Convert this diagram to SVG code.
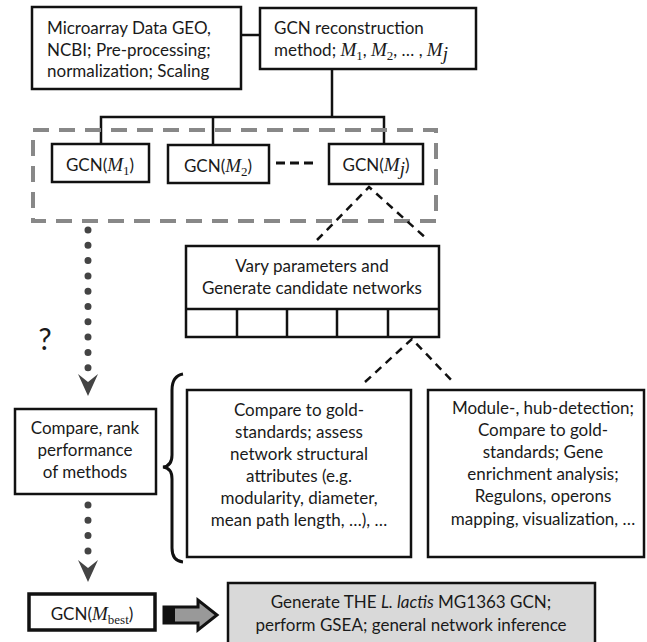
<svg xmlns="http://www.w3.org/2000/svg" width="647" height="642" viewBox="0 0 647 642">
<defs>
<style>
.box{fill:#fff;stroke:#111;stroke-width:2.5}
.t{font-family:Lato,"Open Sans",sans-serif;font-size:17px;fill:#1a1a1a}
.c{text-anchor:middle}
.m{font-family:"Liberation Serif","DejaVu Serif",serif;font-style:italic;font-size:19px}
.s{font-family:"Liberation Serif","DejaVu Serif",serif;font-size:13px;font-style:normal}
.ln{fill:none;stroke:#111;stroke-width:2.5}
.dl{fill:none;stroke:#111;stroke-width:2.5;stroke-dasharray:8,6}
.dot{fill:none;stroke:#444;stroke-width:7;stroke-linecap:round;stroke-dasharray:0,15.3}
.head{fill:#444}
</style>
</defs>
<rect width="647" height="642" fill="#fff"/>

<g id="connectors">
<line class="ln" x1="241" y1="35" x2="260" y2="35"/>
<polyline class="ln" points="332,69 332,117"/>
<polyline class="ln" points="101,144 101,117 384,117 384,144"/>
<line class="ln" x1="213" y1="117" x2="213" y2="145"/>
<line x1="276" y1="163" x2="316" y2="163" stroke="#111" stroke-width="3" stroke-dasharray="9,5"/>
<rect x="33" y="130" width="403" height="91" fill="none" stroke="#888" stroke-width="4" stroke-dasharray="16,10"/>
<polyline class="dl" points="317,240 369,187 428,240"/>
<polyline class="dl" points="365,382 412,339 454,383"/>
<line class="dot" x1="88" y1="230" x2="88" y2="368"/>
<polygon class="head" points="78,374 88,382 98,374 88,396"/>
<line class="dot" x1="88" y1="505" x2="88" y2="553"/>
<polygon class="head" points="78,560 88,568 98,560 88,582"/>
<path d="M183,374 Q172,376 172,390 L172,455 Q172,466 163,467 Q172,468 172,479 L172,548 Q172,561 183,562" fill="none" stroke="#111" stroke-width="3"/>
<polygon points="164,607 198,607 198,600 217,615 198,630 198,623 164,623" fill="#999" stroke="#111" stroke-width="3" stroke-linejoin="miter"/>
<rect x="164" y="607" width="11" height="16" fill="#111"/>
</g>

<g id="n-microarray">
<rect class="box" x="32" y="7" width="209" height="82"/>
<text class="t" x="47" y="34">Microarray Data GEO,</text>
<text class="t" x="47" y="56">NCBI; Pre-processing;</text>
<text class="t" x="47" y="77">normalization; Scaling</text>
</g>

<g id="n-recon">
<rect class="box" x="260" y="8" width="216" height="61"/>
<text class="t" x="274" y="34">GCN reconstruction</text>
<text class="t" x="274" y="56">method; <tspan class="m">M</tspan><tspan class="s" dy="4">1</tspan><tspan dy="-4">, </tspan><tspan class="m">M</tspan><tspan class="s" dy="4">2</tspan><tspan dy="-4">, … , </tspan><tspan class="m">M</tspan><tspan class="m" font-size="13" dy="4">j</tspan></text>
</g>

<g id="n-gcn1">
<rect class="box" x="52" y="144" width="97" height="38"/>
<text class="t c" x="100" y="171">GCN(<tspan class="m">M</tspan><tspan class="s" dy="4">1</tspan><tspan dy="-4">)</tspan></text>
</g>

<g id="n-gcn2">
<rect class="box" x="168" y="145" width="101" height="38"/>
<text class="t c" x="218" y="172">GCN(<tspan class="m">M</tspan><tspan class="s" dy="4">2</tspan><tspan dy="-4">)</tspan></text>
</g>

<g id="n-gcnj">
<rect class="box" x="329" y="144" width="94" height="40"/>
<text class="t c" x="376" y="171">GCN(<tspan class="m">M</tspan><tspan class="m" font-size="13" dy="4">j</tspan><tspan dy="-4">)</tspan></text>
</g>

<g id="n-vary">
<rect class="box" x="186" y="246" width="253" height="91"/>
<line class="ln" x1="186" y1="309" x2="439" y2="309"/>
<line class="ln" x1="237" y1="309" x2="237" y2="337"/>
<line class="ln" x1="287" y1="309" x2="287" y2="337"/>
<line class="ln" x1="337" y1="309" x2="337" y2="337"/>
<line class="ln" x1="388" y1="309" x2="388" y2="337"/>
<text class="t c" x="312" y="272">Vary parameters and</text>
<text class="t c" x="312" y="294">Generate candidate networks</text>
</g>

<g id="q-mark">
<text x="45" y="350" font-family="Lato,'Open Sans',sans-serif" font-size="30" fill="#1a1a1a" text-anchor="middle">?</text>
</g>

<g id="n-compare">
<rect class="box" x="15" y="409" width="141" height="85"/>
<text class="t c" x="85" y="434">Compare, rank</text>
<text class="t c" x="85" y="456">performance</text>
<text class="t c" x="85" y="478">of methods</text>
</g>

<g id="n-gold">
<rect class="box" x="187" y="390" width="224" height="167"/>
<text class="t c" x="299" y="416">Compare to gold-</text>
<text class="t c" x="299" y="438">standards; assess</text>
<text class="t c" x="299" y="460">network structural</text>
<text class="t c" x="299" y="482">attributes (e.g.</text>
<text class="t c" x="299" y="504">modularity, diameter,</text>
<text class="t c" x="299" y="526">mean path length, …), …</text>
</g>

<g id="n-module">
<rect class="box" x="428" y="390" width="216" height="167"/>
<text class="t c" x="543" y="414">Module-, hub-detection;</text>
<text class="t c" x="543" y="436">Compare to gold-</text>
<text class="t c" x="543" y="458">standards; Gene</text>
<text class="t c" x="543" y="480">enrichment analysis;</text>
<text class="t c" x="543" y="502">Regulons, operons</text>
<text class="t c" x="543" y="525">mapping, visualization, …</text>
</g>

<g id="n-best">
<rect x="29" y="594" width="126" height="36" fill="#fff" stroke="#111" stroke-width="3.5"/>
<text class="t c" x="92" y="620">GCN(<tspan class="m">M</tspan><tspan class="s" font-size="13" dy="4">best</tspan><tspan dy="-4">)</tspan></text>
</g>

<g id="n-generate">
<rect x="228" y="583" width="367" height="64" fill="#d9d9d9" stroke="#111" stroke-width="2.5"/>
<text class="t c" x="411" y="608">Generate THE <tspan font-style="italic">L. lactis</tspan> MG1363 GCN;</text>
<text class="t c" x="411" y="631">perform GSEA; general network inference</text>
</g>
</svg>
